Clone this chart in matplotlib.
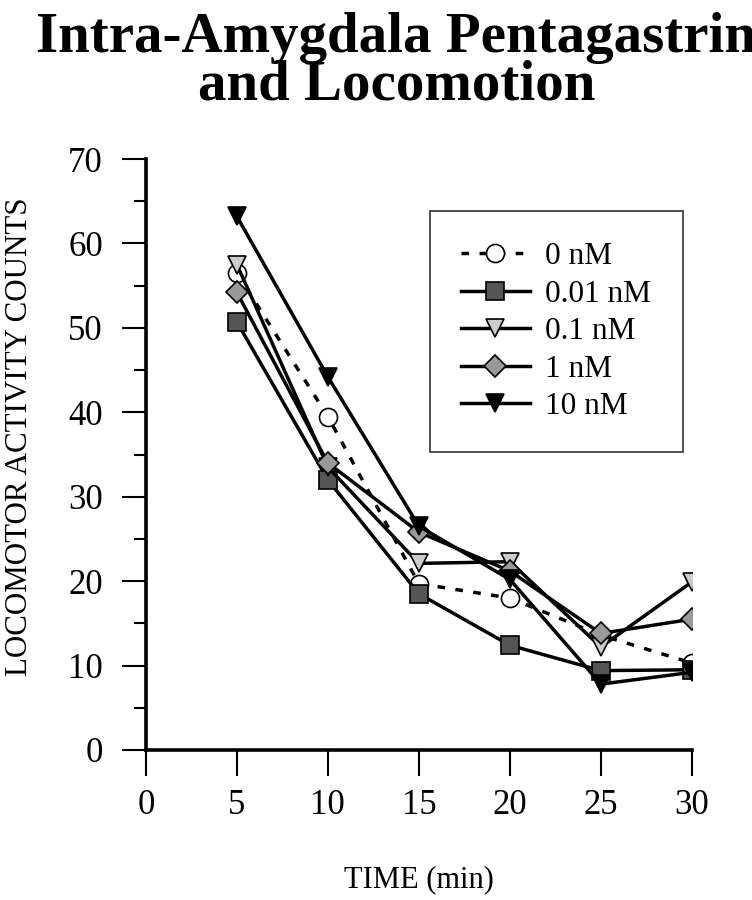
import matplotlib.pyplot as plt
from matplotlib.ticker import MultipleLocator

time_min = [5, 10, 15, 20, 25, 30]

dose_labels = ["0 nM", "0.01 nM", "0.1 nM", "1 nM", "10 nM"]
counts_0nM = [56.5, 39.5, 19.7, 18.0, 13.6, 10.3]
counts_001nM = [50.7, 32.0, 18.5, 12.4, 9.4, 9.5]
counts_01nM = [57.5, 33.5, 22.1, 22.3, 12.2, 19.9]
counts_1nM = [54.2, 34.0, 25.8, 21.2, 13.8, 15.5]
counts_10nM = [63.2, 44.2, 26.5, 20.2, 7.8, 9.2]

x_ticks = [0, 5, 10, 15, 20, 25, 30]
y_ticks = [0, 10, 20, 30, 40, 50, 60, 70]

plt.rcParams['font.family'] = ['Liberation Serif', 'DejaVu Serif']

fig = plt.figure(figsize=(7.52, 9.0), dpi=100)
ax = fig.add_axes([0.194, 0.1667, 0.726, 0.6566])

# marker, face colour, line style for each dose
series = [
    (counts_0nM, 'o', 'white', (0, (2.2, 3.0))),
    (counts_001nM, 's', '#555555', '-'),
    (counts_01nM, 'v', '#cccccc', '-'),
    (counts_1nM, 'D', '#999999', '-'),
    (counts_10nM, 'v', 'black', '-'),
]

for (vals, mk, fc, ls), lab in zip(series, dose_labels):
    ms = 11 if mk == 'D' else 13
    ax.plot(time_min, vals, linestyle=ls, color='black', linewidth=2.5,
            marker=mk, markersize=ms, markerfacecolor=fc,
            markeredgecolor='black', markeredgewidth=1.2, label=lab)

ax.set_xlim(0, 30)
ax.set_ylim(0, 70)
ax.set_xticks(x_ticks)
ax.set_yticks(y_ticks)
ax.yaxis.set_minor_locator(MultipleLocator(5))
ax.tick_params(axis='x', direction='out', length=19, width=1.5,
               labelsize=25, pad=9)
ax.tick_params(axis='y', which='major', direction='out', length=17,
               width=1.5, labelsize=25, pad=14)
ax.tick_params(axis='y', which='minor', direction='out', length=9, width=1.5)

for side in ['top', 'right']:
    ax.spines[side].set_visible(False)
for side in ['left', 'bottom']:
    ax.spines[side].set_linewidth(2.6)

ax.set_xlabel("TIME (min)", fontsize=22)
ax.xaxis.set_label_coords(0.5, -0.195)
ax.set_ylabel("LOCOMOTOR ACTIVITY COUNTS", fontsize=22.3)
ax.yaxis.set_label_coords(-0.205, 0.53)

leg = ax.legend(loc='upper left', bbox_to_anchor=(0.52, 0.912),
                fontsize=22.5, frameon=True, fancybox=False,
                handlelength=2.2, borderpad=1.0, labelspacing=0.27,
                handletextpad=0.5, borderaxespad=0)
leg.get_frame().set_edgecolor('black')
leg.get_frame().set_linewidth(1.2)

fig.text(0.527, 1 - 52 / 900, "Intra-Amygdala Pentagastrin",
         ha='center', va='baseline', fontsize=41, fontweight='bold')
fig.text(0.527, 1 - 100 / 900, "and Locomotion",
         ha='center', va='baseline', fontsize=41, fontweight='bold')

fig.savefig("out.png", dpi=100)
